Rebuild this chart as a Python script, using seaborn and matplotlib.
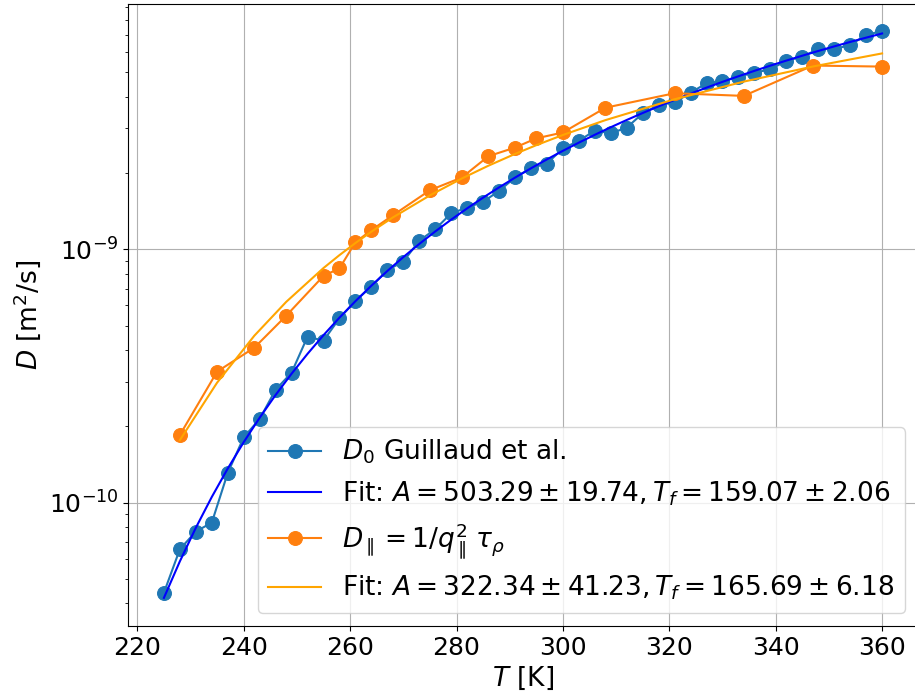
import numpy as np
import pandas as pd
import matplotlib
matplotlib.use("Agg")
import matplotlib.pyplot as plt
import seaborn as sns

# Self-diffusion data (Guillaud et al.), temperature in K, D in m^2/s
T_guillaud = [225, 228, 231, 234, 237, 240, 243, 246, 249, 252, 255, 258,
              261, 264, 267, 270, 273, 276, 279, 282, 285, 288, 291, 294,
              297, 300, 303, 306, 309, 312, 315, 318, 321, 324, 327, 330,
              333, 336, 339, 342, 345, 348, 351, 354, 357, 360]
D_guillaud = [4.41e-11, 6.55e-11, 7.69e-11, 8.34e-11, 1.31e-10, 1.81e-10,
              2.14e-10, 2.79e-10, 3.26e-10, 4.52e-10, 4.36e-10, 5.34e-10,
              6.26e-10, 7.12e-10, 8.28e-10, 8.94e-10, 1.081e-9, 1.20e-9,
              1.387e-9, 1.46e-9, 1.54e-9, 1.70e-9, 1.92e-9, 2.09e-9,
              2.18e-9, 2.50e-9, 2.68e-9, 2.94e-9, 2.87e-9, 3.02e-9,
              3.44e-9, 3.71e-9, 3.80e-9, 4.15e-9, 4.52e-9, 4.61e-9,
              4.80e-9, 4.98e-9, 5.13e-9, 5.55e-9, 5.75e-9, 6.17e-9,
              6.17e-9, 6.40e-9, 7.01e-9, 7.27e-9]

# Parallel diffusion from density relaxation times
T_par = [228, 235, 242, 248, 255, 258, 261, 264, 268, 275, 281, 286,
         291, 295, 300, 308, 321, 334, 347, 360]
D_par = [1.85e-10, 3.29e-10, 4.09e-10, 5.47e-10, 7.85e-10, 8.41e-10,
         1.066e-9, 1.19e-9, 1.36e-9, 1.71e-9, 1.92e-9, 2.33e-9,
         2.52e-9, 2.74e-9, 2.89e-9, 3.62e-9, 4.13e-9, 4.03e-9,
         5.31e-9, 5.26e-9]

# Vogel-Fulcher fit parameters: D = D_inf * exp(-A / (T - T_f))
fit0 = dict(D_inf=8.70e-8, A=503.29, dA=19.74, Tf=159.07, dTf=2.06)
fitp = dict(D_inf=3.115e-8, A=322.34, dA=41.23, Tf=165.69, dTf=6.18)

x_ticks = [220, 240, 260, 280, 300, 320, 340, 360]
y_ticks = [1e-10, 1e-9]


def vft(T, p):
    T = np.asarray(T, dtype=float)
    return p["D_inf"] * np.exp(-p["A"] / (T - p["Tf"]))


df0 = pd.DataFrame({"T": T_guillaud, "D": D_guillaud,
                    "fit": vft(T_guillaud, fit0)})
dfp = pd.DataFrame({"T": T_par, "D": D_par, "fit": vft(T_par, fitp)})

plt.rcParams.update({
    "font.family": ["DejaVu Sans"],
    "font.size": 19,
    "axes.labelsize": 19,
    "xtick.labelsize": 18,
    "ytick.labelsize": 18,
    "legend.fontsize": 19,
})

fig = plt.figure(figsize=(9.15, 6.98), dpi=100)
ax = fig.add_axes([128 / 915, 72 / 698, 790 / 915, 622 / 698])

blue = "#1f77b4"
orange = "#ff7f0e"

sns.lineplot(data=df0, x="T", y="D", ax=ax, color=blue, marker="o",
             markersize=10, markeredgecolor=blue, linewidth=1.5,
             estimator=None, label=r"$D_0$ Guillaud et al.")
sns.lineplot(data=df0, x="T", y="fit", ax=ax, color="blue", linewidth=1.5,
             estimator=None,
             label=rf"Fit: $A = {fit0['A']:.2f} \pm {fit0['dA']:.2f}, "
                   rf"T_f = {fit0['Tf']:.2f} \pm {fit0['dTf']:.2f}$")
sns.lineplot(data=dfp, x="T", y="D", ax=ax, color=orange, marker="o",
             markersize=10, markeredgecolor=orange, linewidth=1.5,
             estimator=None,
             label=r"$D_\parallel = 1/q_\parallel^2\,\tau_\rho$")
sns.lineplot(data=dfp, x="T", y="fit", ax=ax, color="orange", linewidth=1.5,
             estimator=None,
             label=rf"Fit: $A = {fitp['A']:.2f} \pm {fitp['dA']:.2f}, "
                   rf"T_f = {fitp['Tf']:.2f} \pm {fitp['dTf']:.2f}$")

ax.set_yscale("log")
ax.set_xlim(218.25, 366.75)
ax.set_ylim(3.26e-11, 9.29e-9)
ax.set_xticks(x_ticks)
ax.set_yticks(y_ticks)
ax.grid(True, which="major", color="#b0b0b0", linewidth=0.8)
ax.set_xlabel(r"$T$ [K]")
ax.set_ylabel(r"$D$ [m$^2$/s]")
ax.legend(loc="lower right")

fig.savefig("out.png", dpi=100)
